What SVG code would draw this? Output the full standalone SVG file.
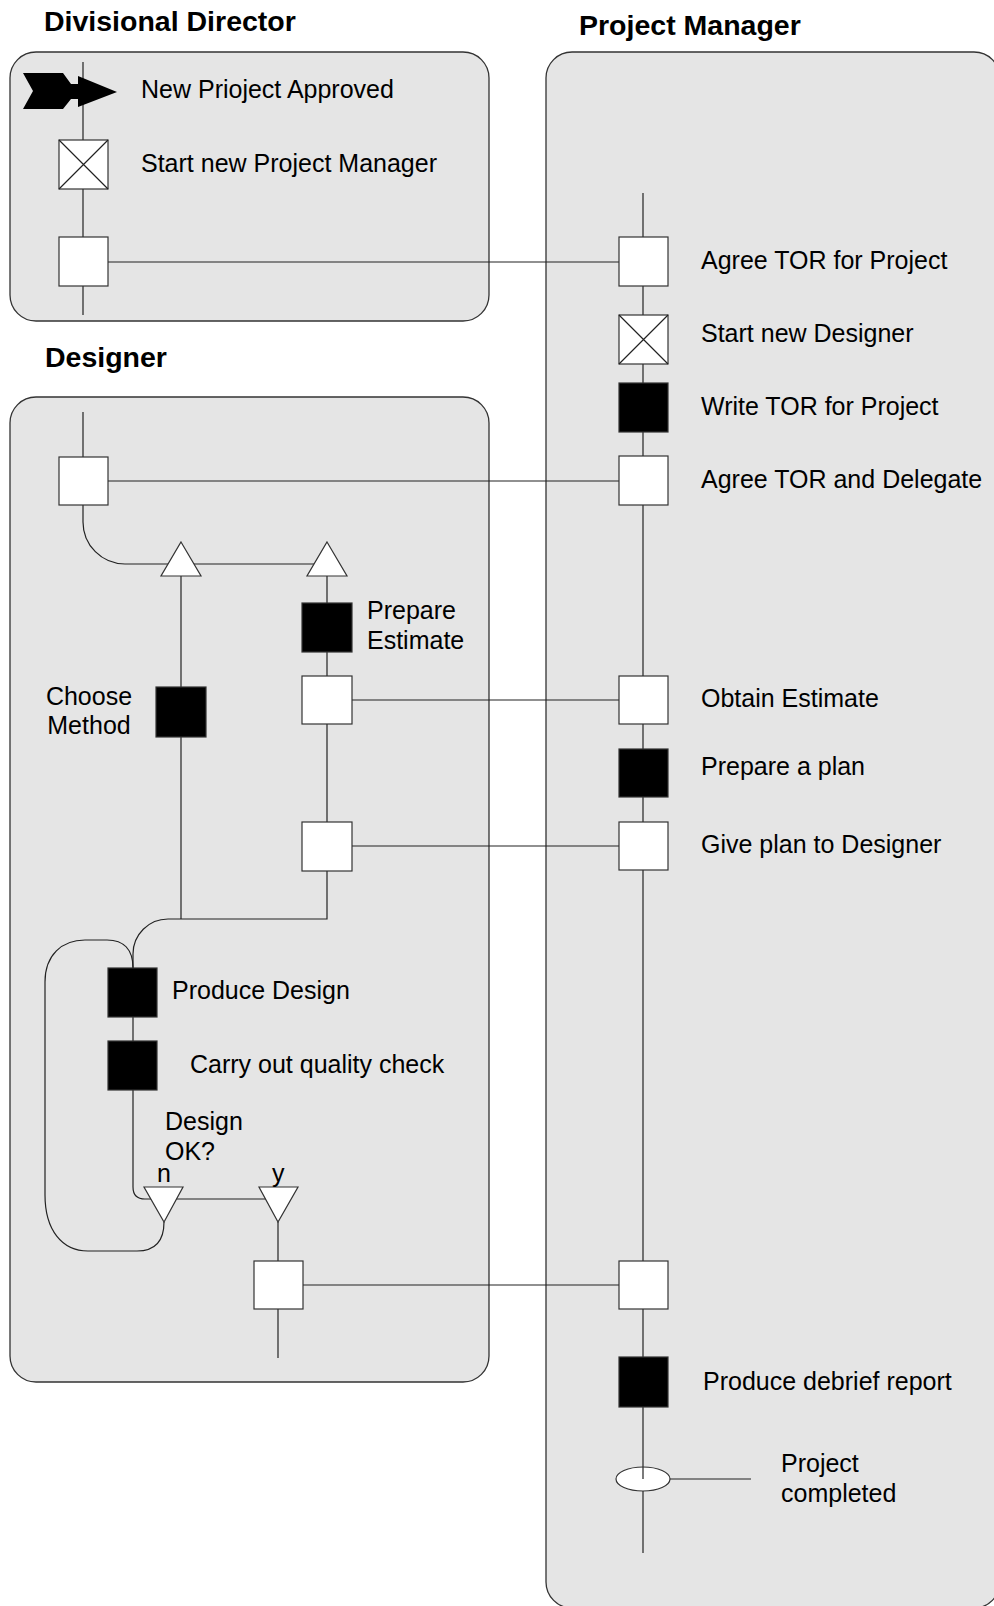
<svg xmlns="http://www.w3.org/2000/svg" width="994" height="1606" viewBox="0 0 994 1606">
<defs>
<style>
.lane{fill:#e5e5e5;stroke:#333;stroke-width:1.3}
.ln{fill:none;stroke:#222;stroke-width:1.2}
.bx{fill:#fff;stroke:#333;stroke-width:1.2}
.bk{fill:#000;stroke:#333;stroke-width:1.2}
.t{font-family:"Liberation Sans",Arial,sans-serif;font-size:25px;fill:#000}
.h{font-family:"Liberation Sans",Arial,sans-serif;font-size:28.5px;font-weight:bold;fill:#000}
</style>
</defs>
<rect width="994" height="1606" fill="#fff"/>
<g id="lanes">
<rect class="lane" x="10" y="52" width="479" height="269" rx="26"/>
<rect class="lane" x="546" y="52" width="454" height="1556" rx="26"/>
<rect class="lane" x="10" y="397" width="479" height="985" rx="26"/>
<text class="h" x="44" y="31">Divisional Director</text>
<text class="h" x="579" y="35">Project Manager</text>
<text class="h" x="45" y="367">Designer</text>
</g>
<g id="connectors">
<path class="ln" d="M83,62 V315"/>
<path class="ln" d="M108,262 H619"/>
<path class="ln" d="M643,193 V1553"/>
<path class="ln" d="M83,412 V457"/>
<path class="ln" d="M108,481 H619"/>
<path class="ln" d="M83,505 V522 A42,42 0 0 0 125,564 H327"/>
<path class="ln" d="M181,576 V919"/>
<path class="ln" d="M327,576 V871 V919 H168 A35,35 0 0 0 133,954 V968"/>
<path class="ln" d="M352,700 H619"/>
<path class="ln" d="M352,846 H619"/>
<path class="ln" d="M133,1017 V1041"/>
<path class="ln" d="M133,1090 V1187 Q133,1199 145,1199 H278"/>
<path class="ln" d="M164,1222 C164,1241 155,1251 137,1251 H88 C62,1251 45,1230 45,1195 V982 C45,955 62,940 85,940 H107 C124,940 133,950 133,968"/>
<path class="ln" d="M278,1222 V1261"/>
<path class="ln" d="M278,1309 V1358"/>
<path class="ln" d="M303,1285 H619"/>
<path class="ln" d="M670,1479 H751"/>
</g>
<g id="dd-start">
<polygon points="23,73 63,73 71,84 78,84 78,76 117,92 78,107 78,99 71,99 63,109 23,109 33,91" fill="#000"/>
<text class="t" x="141" y="98">New Prioject Approved</text>
</g>
<g id="dd-start-pm">
<rect class="bx" x="59" y="140" width="49" height="49"/>
<path class="ln" d="M59,140 L108,189 M108,140 L59,189"/>
<text class="t" x="141" y="172">Start new Project Manager</text>
</g>
<g id="dd-agree">
<rect class="bx" x="59" y="237" width="49" height="49"/>
</g>
<g id="pm-agree-tor">
<rect class="bx" x="619" y="237" width="49" height="49"/>
<text class="t" x="701" y="269">Agree TOR for Project</text>
</g>
<g id="pm-start-designer">
<rect class="bx" x="619" y="315" width="49" height="49"/>
<path class="ln" d="M619,315 L668,364 M668,315 L619,364"/>
<text class="t" x="701" y="342">Start new Designer</text>
</g>
<g id="pm-write-tor">
<rect class="bk" x="619" y="383" width="49" height="49"/>
<text class="t" x="701" y="415">Write TOR for Project</text>
</g>
<g id="pm-agree-delegate">
<rect class="bx" x="619" y="456" width="49" height="49"/>
<text class="t" x="701" y="488">Agree TOR and Delegate</text>
</g>
<g id="pm-obtain-estimate">
<rect class="bx" x="619" y="676" width="49" height="48"/>
<text class="t" x="701" y="707">Obtain Estimate</text>
</g>
<g id="pm-prepare-plan">
<rect class="bk" x="619" y="749" width="49" height="48"/>
<text class="t" x="701" y="775">Prepare a plan</text>
</g>
<g id="pm-give-plan">
<rect class="bx" x="619" y="822" width="49" height="48"/>
<text class="t" x="701" y="853">Give plan to Designer</text>
</g>
<g id="pm-receive-design">
<rect class="bx" x="619" y="1261" width="49" height="48"/>
</g>
<g id="pm-debrief">
<rect class="bk" x="619" y="1357" width="49" height="50"/>
<text class="t" x="703" y="1390">Produce debrief report</text>
</g>
<g id="pm-completed">
<ellipse class="bx" cx="643" cy="1479" rx="27" ry="12"/>
<path class="ln" d="M643,1467 V1479"/>
<text class="t" x="781" y="1472">Project</text>
<text class="t" x="781" y="1502">completed</text>
</g>
<g id="d-agree">
<rect class="bx" x="59" y="457" width="49" height="48"/>
</g>
<g id="d-split-1">
<polygon class="bx" points="181,542 201,576 161,576"/>
</g>
<g id="d-split-2">
<polygon class="bx" points="327,542 347,576 307,576"/>
</g>
<g id="d-choose-method">
<rect class="bk" x="156" y="687" width="50" height="50"/>
<text class="t" x="89" y="705" text-anchor="middle">Choose</text>
<text class="t" x="89" y="734" text-anchor="middle">Method</text>
</g>
<g id="d-prepare-estimate">
<rect class="bk" x="302" y="603" width="50" height="49"/>
<text class="t" x="367" y="619">Prepare</text>
<text class="t" x="367" y="649">Estimate</text>
</g>
<g id="d-give-estimate">
<rect class="bx" x="302" y="676" width="50" height="48"/>
</g>
<g id="d-receive-plan">
<rect class="bx" x="302" y="822" width="50" height="49"/>
</g>
<g id="d-produce-design">
<rect class="bk" x="108" y="968" width="49" height="49"/>
<text class="t" x="172" y="999">Produce Design</text>
</g>
<g id="d-quality-check">
<rect class="bk" x="108" y="1041" width="49" height="49"/>
<text class="t" x="190" y="1073">Carry out quality check</text>
</g>
<g id="d-decision">
<text class="t" x="165" y="1130">Design</text>
<text class="t" x="165" y="1160">OK?</text>
</g>
<g id="d-no">
<polygon class="bx" points="144,1187 183,1187 164,1222"/>
<text class="t" x="157" y="1182">n</text>
</g>
<g id="d-yes">
<polygon class="bx" points="259,1187 298,1187 278,1222"/>
<text class="t" x="272" y="1182">y</text>
</g>
<g id="d-hand-design">
<rect class="bx" x="254" y="1261" width="49" height="48"/>
</g>
</svg>
